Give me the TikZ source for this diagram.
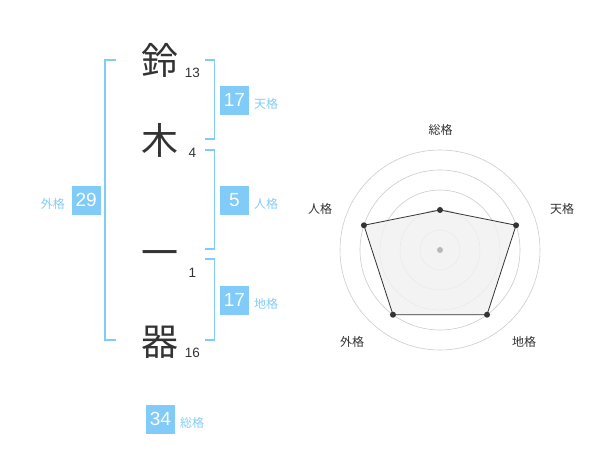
\documentclass[tikz,border=0pt]{standalone}
\usepackage{fontspec}
\setmainfont{Liberation Sans}
\newfontfamily\jp{Noto Sans CJK JP}
\definecolor{boxblue}{HTML}{80CBF8}
\definecolor{lblblue}{HTML}{85CDF7}
\definecolor{ink}{HTML}{333333}
\definecolor{ring}{HTML}{CCCCCC}
\definecolor{polyfill}{HTML}{F1F1F1}
\tikzset{
  kanji/.style={font=\jp\fontsize{37}{37}\selectfont, text=ink, inner sep=0pt},
  strokes/.style={font=\fontsize{13.5}{14}\selectfont, text=ink, inner sep=0pt},
  numbox/.style={fill=boxblue, text=white, minimum width=29pt, minimum height=29pt, inner sep=0pt, font=\fontsize{19}{19}\selectfont},
  kaku/.style={font=\jp\fontsize{12}{12}\selectfont, text=lblblue, inner sep=0pt},
  brk/.style={draw=boxblue, line width=1.6pt},
  axislbl/.style={font=\jp\fontsize{12}{12}\selectfont, text=ink, inner sep=0pt},
  ringline/.style={draw=ring, line width=0.6pt},
  dot/.style={circle, fill=ink, minimum size=6pt, inner sep=0pt},
}
\begin{document}
\begin{tikzpicture}[x=1pt,y=-1pt]
\useasboundingbox[fill=white] (0,0) rectangle (600,470);
% name characters
\node[kanji] (c1) at (160,60) {鈴};
\node[kanji] (c2) at (160,140) {木};
\node[kanji] (c3) at (160,259) {一};
\node[kanji] (c4) at (160,342) {器};
\node[strokes] (s1) at (192.3,73) {13};
\node[strokes] (s2) at (192.3,153.3) {4};
\node[strokes] (s3) at (192.3,273.3) {1};
\node[strokes] (s4) at (192.3,352.7) {16};
% brackets
\draw[brk] (115.7,60) -- (105,60) -- (105,340) -- (115.7,340);
\draw[brk] (205,60) -- (214.3,60) -- (214.3,139.3) -- (205,139.3);
\draw[brk] (205,150) -- (214.3,150) -- (214.3,249.3) -- (205,249.3);
\draw[brk] (205,259.3) -- (214.3,259.3) -- (214.3,340) -- (205,340);
% boxes
\node[numbox] (ten) at (234.5,100.3) {17};
\node[kaku, anchor=west] (tenl) at (254,103.5) {天格};
\node[numbox] (jin) at (234.5,200.3) {5};
\node[kaku, anchor=west] (jinl) at (254,203.5) {人格};
\node[numbox] (chi) at (234.5,300.3) {17};
\node[kaku, anchor=west] (chil) at (254,303.5) {地格};
\node[numbox] (gai) at (86.2,200.3) {29};
\node[kaku, anchor=east] (gail) at (65,203.5) {外格};
\node[numbox] (sou) at (160.5,419) {34};
\node[kaku, anchor=west] (soul) at (180,423) {総格};
% radar
\coordinate (ctr) at (440,250);
\foreach \r in {20,40,60,80,100} \draw[ringline] (ctr) circle[radius=\r];
\coordinate (pS) at (440,210);
\coordinate (pT) at ({440+80*cos(18)},{250-80*sin(18)});
\coordinate (pC) at ({440+80*cos(54)},{250+80*sin(54)});
\coordinate (pG) at ({440-80*cos(54)},{250+80*sin(54)});
\coordinate (pJ) at ({440-80*cos(18)},{250-80*sin(18)});
\draw[fill=polyfill, fill opacity=0.8, draw=ink, line width=0.8pt] (pS) -- (pT) -- (pC) -- (pG) -- (pJ) -- cycle;
\fill[ring!90!black] (ctr) circle[radius=3];
\foreach \p in {pS,pT,pC,pG,pJ} \node[dot] at (\p) {};
\node[axislbl] (aS) at (440.7,130) {総格};
\node[axislbl] (aT) at (562,209) {天格};
\node[axislbl] (aJ) at (320,209) {人格};
\node[axislbl] (aG) at (352,342) {外格};
\node[axislbl] (aC) at (524,342) {地格};
\end{tikzpicture}
\end{document}
